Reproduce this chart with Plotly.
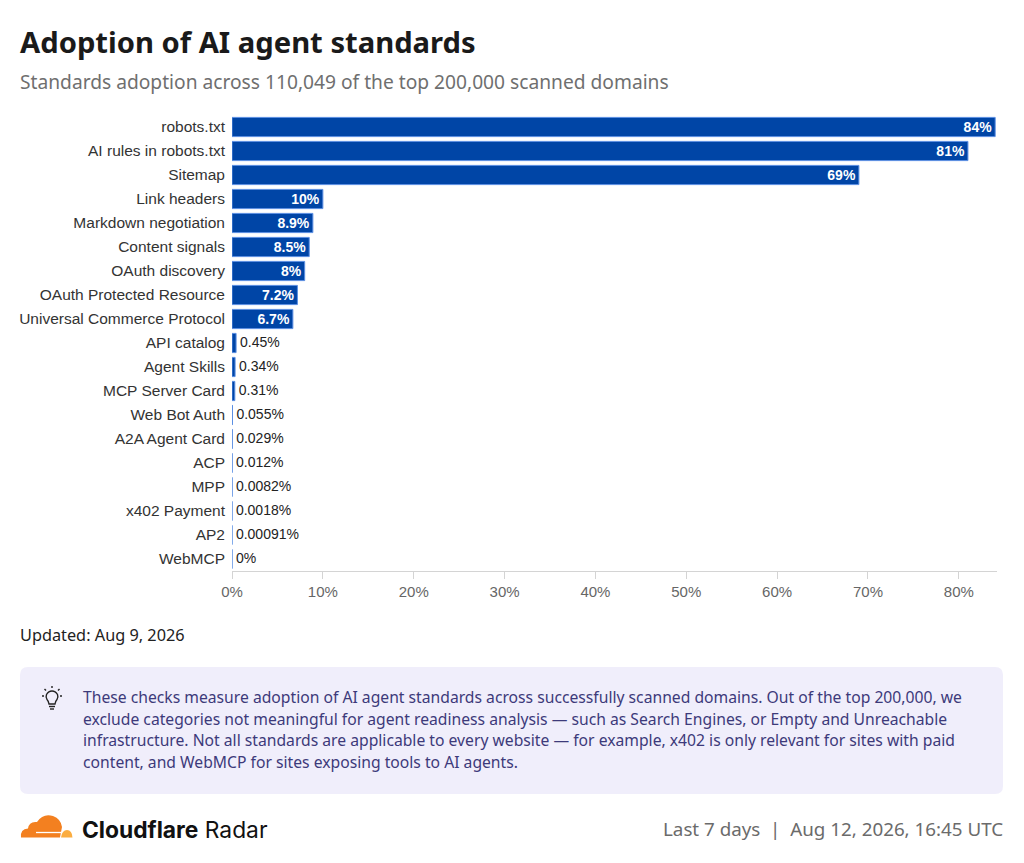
import plotly.graph_objects as go

# --- data -------------------------------------------------------------
standards = [
    "robots.txt", "AI rules in robots.txt", "Sitemap", "Link headers",
    "Markdown negotiation", "Content signals", "OAuth discovery",
    "OAuth Protected Resource", "Universal Commerce Protocol", "API catalog",
    "Agent Skills", "MCP Server Card", "Web Bot Auth", "A2A Agent Card",
    "ACP", "MPP", "x402 Payment", "AP2", "WebMCP",
]
adoption_pct = [
    84, 81, 69, 10, 8.9, 8.5, 8, 7.2, 6.7, 0.45,
    0.34, 0.31, 0.055, 0.029, 0.012, 0.0082, 0.0018, 0.00091, 0,
]
x_ticks = [0, 10, 20, 30, 40, 50, 60, 70, 80]

bar_labels = [f"{v:g}%" for v in adoption_pct]
inside = [v >= 5 for v in adoption_pct]

# page is rendered with an 8px body margin
OFF = 8
W, H = 1024 - OFF, 863 - OFF
ML, MR, MT, MB = 232 - OFF, 27, 115 - OFF, 292
PW, PH = W - ML - MR, H - MT - MB


def px(x):
    # reference page pixel x -> paper
    return (x - OFF - ML) / PW


def py(y):
    # reference page pixel y -> paper
    return (H - MB - (y - OFF)) / PH


def path(pts):
    out = []
    for cmd, coords in pts:
        c = []
        for i in range(0, len(coords), 2):
            c.append(f"{px(coords[i]):.5f},{py(coords[i + 1]):.5f}")
        out.append(cmd + " ".join(c))
    return " ".join(out) + " Z"


fig = go.Figure()
fig.add_trace(go.Bar(
    x=adoption_pct,
    y=standards,
    orientation="h",
    marker=dict(color="#0045a6", line=dict(color="#5b8fe3", width=1)),
    text=[t if ins else "" for t, ins in zip(bar_labels, inside)],
    textposition=["inside" if ins else "none" for ins in inside],
    insidetextanchor="end",
    insidetextfont=dict(family="Liberation Sans, Arial", size=14, color="white", weight=700),
    textangle=0,
    constraintext="none",
    hoverinfo="skip",
))
# labels for the thin bars, just right of the bar end
fig.add_trace(go.Scatter(
    x=[v for v, ins in zip(adoption_pct, inside) if not ins],
    y=[s for s, ins in zip(standards, inside) if not ins],
    text=["\u00a0" + t for t, ins in zip(bar_labels, inside) if not ins],
    mode="text",
    textposition="middle right",
    textfont=dict(family="Liberation Sans, Arial", size=14, color="#222222"),
    cliponaxis=False,
    hoverinfo="skip",
))

fig.update_layout(
    width=W, height=H,
    margin=dict(l=ML, r=MR, t=MT, b=MB, pad=0),
    paper_bgcolor="white", plot_bgcolor="white",
    showlegend=False,
    bargap=0.2,
    font=dict(family="Liberation Sans, Arial", color="#333333"),
)
fig.update_xaxes(
    range=[0, 84.2],
    tickvals=x_ticks,
    ticktext=[f"{t}%" for t in x_ticks],
    showgrid=False, zeroline=False,
    showline=True, linecolor="#d4d4d4", linewidth=1,
    ticks="outside", ticklen=7, tickcolor="#d4d4d4",
    tickfont=dict(size=15, color="#666666"),
    fixedrange=True,
)
fig.update_yaxes(
    range=[len(standards) - 0.5, -0.5],
    showgrid=False, zeroline=False, showline=False,
    ticks="", ticklabelstandoff=6,
    tickfont=dict(size=15.5, color="#333333"),
    fixedrange=True,
)

ann = []
ann.append(dict(text="<b>Adoption of AI agent standards</b>", x=px(18), y=py(42),
                font=dict(family="Noto Sans", size=29.2, color="#1a1a1a")))
ann.append(dict(text="Standards adoption across 110,049 of the top 200,000 scanned domains",
                x=px(18), y=py(82), font=dict(family="Noto Sans", size=19.2, color="#6f6f6f")))
ann.append(dict(text="Updated: Aug 9, 2026", x=px(18), y=py(635),
                font=dict(family="Noto Sans", size=16.3, color="#222222")))

info_lines = [
    "These checks measure adoption of AI agent standards across successfully scanned domains. Out of the top 200,000, we",
    "exclude categories not meaningful for agent readiness analysis \u2014 such as Search Engines, or Empty and Unreachable",
    "infrastructure. Not all standards are applicable to every website \u2014 for example, x402 is only relevant for sites with paid",
    "content, and WebMCP for sites exposing tools to AI agents.",
]
for i, line in enumerate(info_lines):
    ann.append(dict(text=line, x=px(81), y=py(697 + i * 21.6),
                    font=dict(family="Noto Sans", size=15.7, color="#3d3a7a")))

ann.append(dict(text="<b>Cloudflare</b> Radar", x=px(80), y=py(829),
                font=dict(family="Inter", size=22.8, color="#111111")))
ann.append(dict(text="Last 7 days  |  Aug 12, 2026, 16:45 UTC", x=px(1005), y=py(829),
                xanchor="right", font=dict(family="Noto Sans", size=18.8, color="#6b6b6b")))

for a in ann:
    a.setdefault("xanchor", "left")
    a.update(xref="paper", yref="paper", yanchor="middle", showarrow=False, align="left")
fig.update_layout(annotations=ann)

shapes = []
# info box with rounded corners
r = 8
x0, y0, x1, y1 = 20, 667, 1003, 794
shapes.append(dict(
    type="path", xref="paper", yref="paper",
    path=path([
        ("M", [x0 + r, y0]), ("L", [x1 - r, y0]), ("Q", [x1, y0, x1, y0 + r]),
        ("L", [x1, y1 - r]), ("Q", [x1, y1, x1 - r, y1]), ("L", [x0 + r, y1]),
        ("Q", [x0, y1, x0, y1 - r]), ("L", [x0, y0 + r]), ("Q", [x0, y0, x0 + r, y0]),
    ]),
    fillcolor="#f0eefb", line=dict(width=0), layer="below",
))

# light bulb icon
bulb = "#222222"
shapes.append(dict(type="path", xref="paper", yref="paper",
                   path=path([("M", [49, 704]), ("Q", [48.5, 701, 47, 699.5]),
                              ("Q", [45.5, 697, 46.5, 694.5]), ("Q", [48.5, 691, 52, 691]),
                              ("Q", [55.5, 691, 57.5, 694.5]), ("Q", [58.5, 697, 57, 699.5]),
                              ("Q", [55.5, 701, 55, 704])]),
                   line=dict(color=bulb, width=1.4), fillcolor="rgba(0,0,0,0)"))
for (a, b, c, d) in [(49, 706.5, 55, 706.5), (50, 709, 54, 709),
                     (52, 686, 52, 688), (44.5, 689, 46, 690.5), (59.5, 689, 58, 690.5),
                     (42, 696, 44, 696), (60, 696, 62, 696)]:
    shapes.append(dict(type="line", xref="paper", yref="paper",
                       x0=px(a), y0=py(b), x1=px(c), y1=py(d),
                       line=dict(color=bulb, width=1.4)))

# Cloudflare cloud logo
shapes.append(dict(type="path", xref="paper", yref="paper",
                   path=path([("M", [21, 837.5]), ("Q", [20, 829, 28, 828.5]),
                              ("Q", [29, 821, 37, 822]), ("Q", [43, 813, 53, 816]),
                              ("Q", [61, 819, 62, 827]), ("L", [60, 837.5])]),
                   fillcolor="#f38020", line=dict(width=0)))
shapes.append(dict(type="path", xref="paper", yref="paper",
                   path=path([("M", [61, 837.5]), ("Q", [62, 830, 67, 830]),
                              ("Q", [72, 830, 72.5, 837.5])]),
                   fillcolor="#fbad41", line=dict(width=0)))
shapes.append(dict(type="line", xref="paper", yref="paper",
                   x0=px(36), y0=py(832.5), x1=px(62), y1=py(832.5),
                   line=dict(color="white", width=1.3)))
fig.update_layout(shapes=shapes)

fig.write_html("out.html")
